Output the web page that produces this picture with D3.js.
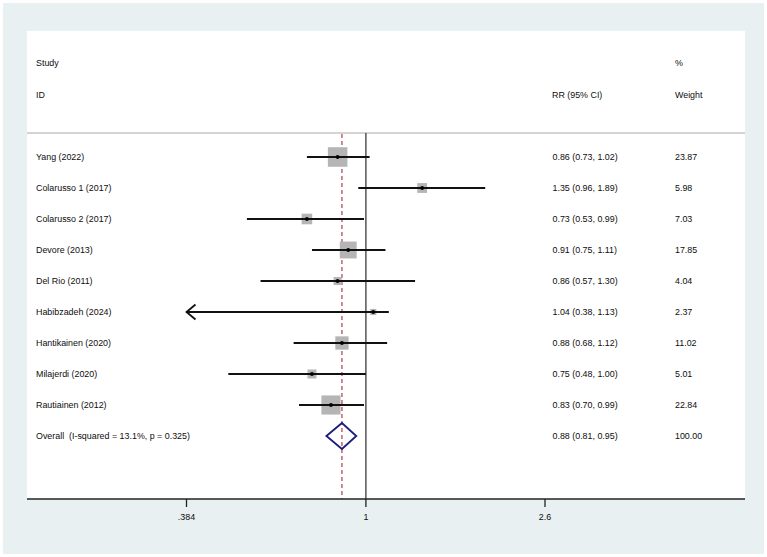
<!DOCTYPE html>
<html>
<head>
<meta charset="utf-8">
<script src="https://cdn.jsdelivr.net/npm/d3@7"></script>
<style>
  body { margin: 0; background: #fff; }
</style>
</head>
<body>
<div id="forest"></div>
<script>
// Study rows
var studies = ["Yang (2022)", "Colarusso 1 (2017)", "Colarusso 2 (2017)", "Devore (2013)", "Del Rio (2011)",
  "Habibzadeh (2024)", "Hantikainen (2020)", "Milajerdi (2020)", "Rautiainen (2012)"];
var rr = [0.86, 1.35, 0.73, 0.91, 0.86, 1.04, 0.88, 0.75, 0.83];
var lower = [0.73, 0.96, 0.53, 0.75, 0.57, 0.38, 0.68, 0.48, 0.70];
var upper = [1.02, 1.89, 0.99, 1.11, 1.30, 1.13, 1.12, 1.00, 0.99];
var weights = ["23.87", "5.98", "7.03", "17.85", "4.04", "2.37", "11.02", "5.01", "22.84"];

// Pooled estimate
var overallLabel = "Overall  (I-squared = 13.1%, p = 0.325)";
var overallRR = 0.88, overallLower = 0.81, overallUpper = 0.95, overallWeight = "100.00";

var tickValues = [0.384, 1, 2.6];
var tickLabels = [".384", "1", "2.6"];

var drawChart = function() {
  var width = 767, height = 557;
  var fontFamily = "'Liberation Sans', Arial, sans-serif";
  var fontSize = 8.9;
  var textColor = "#0d0d0d";

  var svg = d3.select("#forest").append("svg")
    .attr("width", width)
    .attr("height", height);

  // background frame + white plot panel
  svg.append("rect").attr("x", 3).attr("y", 3).attr("width", 761).attr("height", 551).attr("fill", "#e9f0f2");
  svg.append("rect").attr("x", 27).attr("y", 31).attr("width", 718).attr("height", 468).attr("fill", "#fff");

  var x = d3.scaleLog().domain([0.384, 2.6]).range([186.5, 545]);
  var rows = d3.range(studies.length + 1);
  var y = d3.scalePoint().domain(rows).range([157, 436]);
  var boxSize = d3.scaleSqrt().domain([0, 100]).range([0, 40]);

  var txt = function(s, tx, ty, anchor) {
    return svg.append("text").text(s)
      .attr("x", tx).attr("y", ty)
      .attr("dy", "0.35em")
      .attr("text-anchor", anchor || "start")
      .attr("font-family", fontFamily)
      .attr("font-size", fontSize)
      .attr("fill", textColor);
  };

  // header
  txt("Study", 36, 63);
  txt("ID", 36, 95);
  txt("RR (95% CI)", 552, 95);
  txt("%", 675, 63);
  txt("Weight", 675, 95);

  // separator under the header
  svg.append("line").attr("x1", 27).attr("x2", 745).attr("y1", 133).attr("y2", 133)
    .attr("stroke", "#c6c6c6").attr("stroke-width", 1.5);

  // no-effect line at 1
  svg.append("line").attr("x1", x(1)).attr("x2", x(1)).attr("y1", 133).attr("y2", 499)
    .attr("stroke", "#3a3a3a").attr("stroke-width", 1.3);

  // overall effect dashed line
  svg.append("line").attr("x1", x(overallRR)).attr("x2", x(overallRR)).attr("y1", 134).attr("y2", 499)
    .attr("stroke", "#b8495a").attr("stroke-width", 1.3).attr("stroke-dasharray", "4,3");

  var fmt = d3.format(".2f");
  var minX = x.domain()[0];

  studies.forEach(function(name, i) {
    var cy = y(i);
    var s = boxSize(+weights[i]);
    txt(name, 36, cy);
    txt(fmt(rr[i]) + " (" + fmt(lower[i]) + ", " + fmt(upper[i]) + ")", 552.5, cy);
    txt(weights[i], 675, cy);

    // weight box
    svg.append("rect")
      .attr("x", x(rr[i]) - s / 2).attr("y", cy - s / 2)
      .attr("width", s).attr("height", s)
      .attr("fill", "#b5b5b5");

    // confidence interval
    var lo = Math.max(lower[i], minX);
    svg.append("line")
      .attr("x1", x(lo)).attr("x2", x(upper[i]))
      .attr("y1", cy).attr("y2", cy)
      .attr("stroke", "#111").attr("stroke-width", 2);

    // arrow when the interval runs off the axis
    if (lower[i] < minX) {
      var ax = x(minX);
      svg.append("path")
        .attr("d", "M" + (ax + 9) + "," + (cy - 7.5) + "L" + ax + "," + cy + "L" + (ax + 9) + "," + (cy + 7.5))
        .attr("fill", "none").attr("stroke", "#111").attr("stroke-width", 1.8);
    }

    // point estimate
    svg.append("circle").attr("cx", x(rr[i])).attr("cy", cy).attr("r", 1.9).attr("fill", "#000");
  });

  // overall row
  var oy = y(studies.length);
  txt(overallLabel, 36, oy).attr("xml:space", "preserve");
  txt(fmt(overallRR) + " (" + fmt(overallLower) + ", " + fmt(overallUpper) + ")", 552.5, oy);
  txt(overallWeight, 675, oy);
  svg.append("path")
    .attr("d", "M" + x(overallLower) + "," + oy + "L" + x(overallRR) + "," + (oy - 13) +
      "L" + x(overallUpper) + "," + oy + "L" + x(overallRR) + "," + (oy + 13) + "Z")
    .attr("fill", "none").attr("stroke", "#1c1c7a").attr("stroke-width", 1.8);

  // x axis
  var axis = svg.append("g").attr("transform", "translate(0,499)");
  axis.append("line").attr("x1", 27).attr("x2", 745).attr("y1", 0).attr("y2", 0)
    .attr("stroke", "#222").attr("stroke-width", 1.5);
  tickValues.forEach(function(t, i) {
    axis.append("line").attr("x1", x(t)).attr("x2", x(t)).attr("y1", 0).attr("y2", 8)
      .attr("stroke", "#222").attr("stroke-width", 1.3);
    axis.append("text").text(tickLabels[i])
      .attr("x", x(t)).attr("y", 18).attr("dy", "0.35em")
      .attr("text-anchor", "middle")
      .attr("font-family", fontFamily).attr("font-size", fontSize).attr("fill", textColor);
  });
};

window.addEventListener("load", drawChart);
</script>
</body>
</html>
